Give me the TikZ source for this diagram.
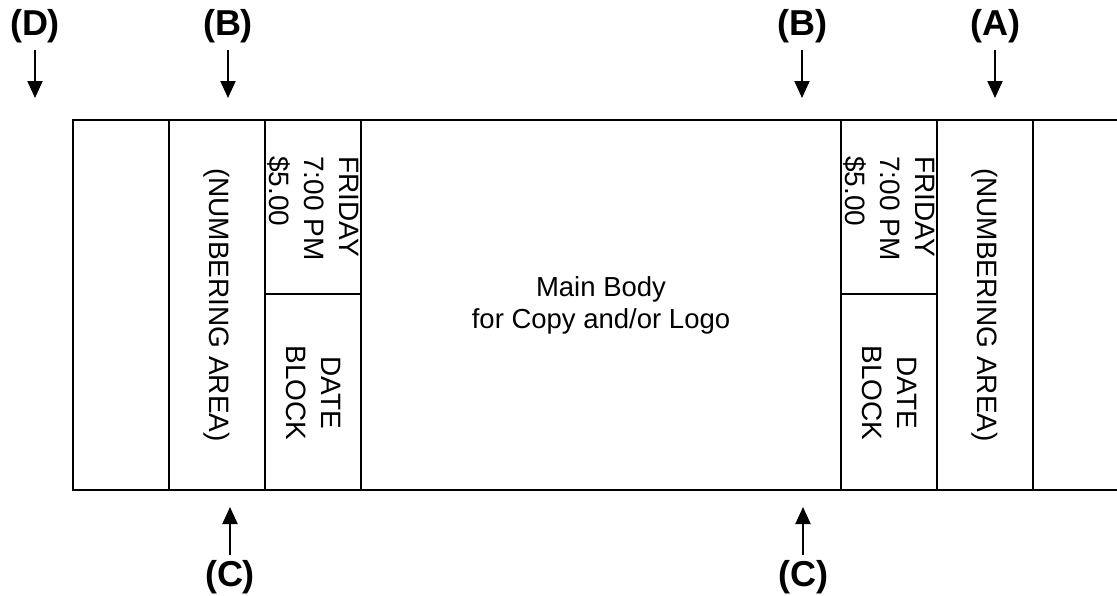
\documentclass[tikz,border=0pt]{standalone}
\usepackage{fontspec}
\setmainfont{Liberation Sans}
\usetikzlibrary{arrows.meta}

\begin{document}
\begin{tikzpicture}[x=1pt, y=-1pt]
\tikzstyle{tag} = [font=\fontsize{36}{42}\selectfont\bfseries, inner sep=0pt, anchor=base]
\tikzstyle{vtext} = [font=\fontsize{28}{35}\selectfont, rotate=-90, inner sep=0pt]
\tikzstyle{body} = [font=\fontsize{27.5}{32}\selectfont, align=center, inner sep=0pt]
\tikzstyle{line} = [draw, line width=2pt]
\tikzstyle{pointer} = [draw, line width=2pt, -{Triangle[width=15pt, length=17pt]}]

 \useasboundingbox (0,0) rectangle (1117,595);

 \path [line] (1117,120) -- (73,120) -- (73,490) -- (1117,490);
 \foreach \x in {169,265,361,841,937,1033}
   \path [line] (\x,120) -- (\x,490);
 \path [line] (265,294) -- (361,294);
 \path [line] (841,294) -- (937,294);

 \node [vtext] (numleft) at (217,305) {(NUMBERING AREA)};
 \node [vtext, align=left, anchor=west] (priceleft) at (313,156) {FRIDAY\\7:00 PM\\\$5.00};
 \node [vtext, align=center] (dateleft) at (313,393) {DATE\\BLOCK};

 \node [body] (mainbody) at (601,305) {Main Body\\for Copy and/or Logo};

 \node [vtext, align=left, anchor=west] (priceright) at (889,156) {FRIDAY\\7:00 PM\\\$5.00};
 \node [vtext, align=center] (dateright) at (889,393) {DATE\\BLOCK};
 \node [vtext] (numright) at (985,305) {(NUMBERING AREA)};

 \node [tag] (tagD) at (35,35) {(D)};
 \node [tag] (tagBleft) at (228,35) {(B)};
 \node [tag] (tagBright) at (802,35) {(B)};
 \node [tag] (tagA) at (995,35) {(A)};
 \node [tag] (tagCleft) at (230,586) {(C)};
 \node [tag] (tagCright) at (803,586) {(C)};

 \coordinate (tipD) at (35,98);
 \coordinate (tipBleft) at (228,98);
 \coordinate (tipBright) at (802,98);
 \coordinate (tipA) at (995,98);
 \coordinate (tipCleft) at (230,507);
 \coordinate (tipCright) at (803,507);

 \path [pointer, shorten <=7pt] (tagD.south) -- (tipD);
 \path [pointer, shorten <=7pt] (tagBleft.south) -- (tipBleft);
 \path [pointer, shorten <=7pt] (tagBright.south) -- (tipBright);
 \path [pointer, shorten <=7pt] (tagA.south) -- (tipA);
 \path [pointer, shorten <=5pt] (tagCleft.north) -- (tipCleft);
 \path [pointer, shorten <=5pt] (tagCright.north) -- (tipCright);
\end{tikzpicture}
\end{document}
